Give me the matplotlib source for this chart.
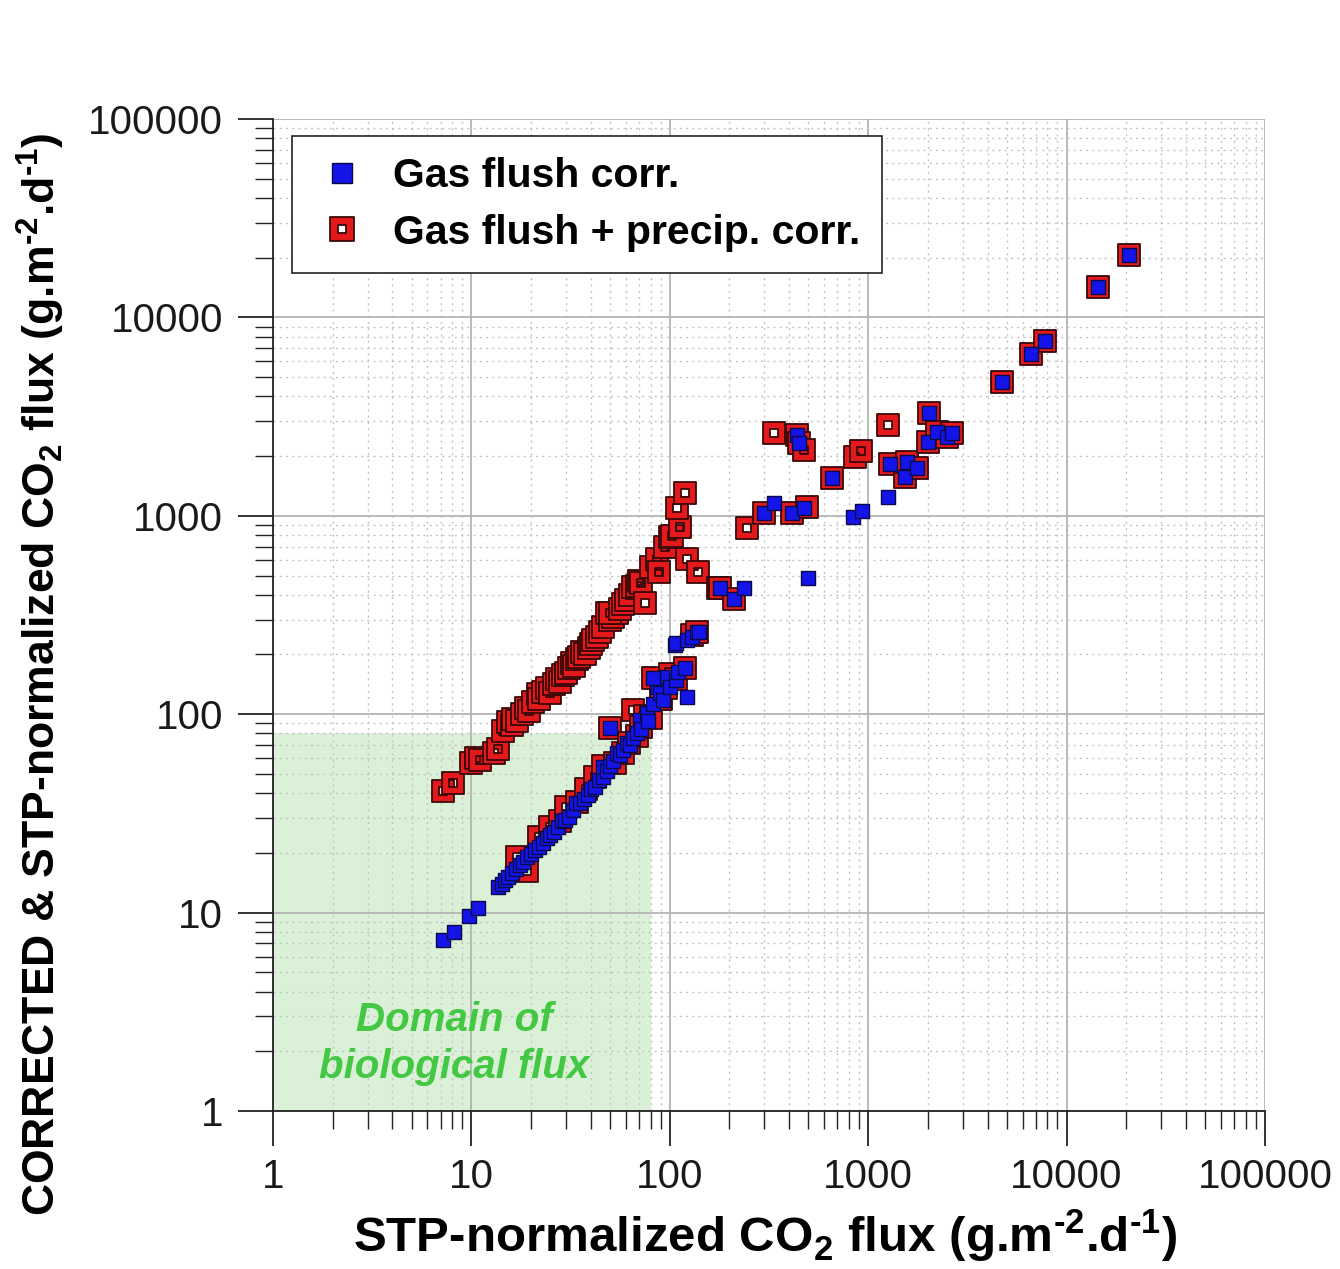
import numpy as np
import matplotlib as mpl
import matplotlib.pyplot as plt
from matplotlib.path import Path
from matplotlib.lines import Line2D
from matplotlib.patches import Rectangle

plt.rcParams['font.family'] = ['Liberation Sans', 'DejaVu Sans']
plt.rcParams['mathtext.fontset'] = 'custom'
plt.rcParams['mathtext.rm'] = 'Liberation Sans'
plt.rcParams['mathtext.bf'] = 'Liberation Sans:bold'

# ---- data (g.m-2.d-1) ----
# gas flush correction only
blue_x = [7.2, 8.2, 9.7, 10.8,
          13.6, 14.2, 14.7, 15.3, 16.0, 16.8, 17.6, 18.3, 19.1, 20.0, 20.9, 22.0,
          23.0, 24.0, 24.9, 26.0, 27.3, 28.5, 29.7, 31.0, 32.5, 33.5, 35.3, 37.0,
          38.6, 40.0, 42.0, 44.0, 46.0, 46.0, 48.0, 50.0, 52.0, 54.0, 56.0, 58.0,
          61.0, 63.0, 65.0, 68.0, 50.0, 71.0, 72.0, 76.5, 78.0, 82.0, 86.0, 89.0,
          92.5, 96.5, 100.0, 82.0, 108.0, 110.0, 119.0, 122.0, 106.0, 108.0, 122.0,
          130.0, 137.0, 141.0,
          180, 210, 238, 299, 335, 413, 440, 450, 474, 498, 660, 840, 930, 1260,
          1290, 1535, 1570, 1760, 2000, 2025, 2220, 2500, 2640, 4725, 6620, 7780,
          14400, 20650]
blue_y = [7.3, 8.0, 9.6, 10.5,
          13.5, 14.0, 14.6, 15.1, 15.8, 16.5, 17.4, 18.0, 19.1, 19.8, 20.6, 21.5,
          22.4, 23.8, 24.6, 25.5, 27.0, 28.8, 29.3, 30.5, 33.0, 35.5, 35.7, 37.5,
          39.0, 42.0, 43.0, 46.5, 48.0, 54.0, 52.0, 55.0, 58.0, 64.0, 62.0, 66.0,
          71.5, 70.0, 76.0, 80.0, 85.0, 94.0, 84.0, 101.0, 92.0, 113.0, 137.0, 128.0,
          118.0, 154.0, 137.0, 152.0, 149.0, 164.0, 171.0, 122.0, 223.0, 229.0, 237.0,
          245.0, 260.0, 260.0,
          433, 380, 433, 1033, 1160, 1033, 2555, 2330, 1095, 486, 1550, 986, 1057, 1245,
          1825, 1570, 1865, 1740, 2355, 3300, 2640, 2500, 2615, 4725, 6540, 7600,
          14200, 20650]

# gas flush + precipitation correction
red_x = [7.2, 8.1, 10.0, 10.6, 11.0, 13.0, 13.6, 14.5, 15.3, 16.0, 16.3, 17.0,
         18.0, 18.8, 19.5, 20.5, 21.7, 22.0, 23.0, 24.0, 25.0, 26.0, 27.0, 28.0,
         29.0, 30.0, 31.0, 32.0, 33.0, 34.0, 35.0, 36.0, 37.5, 39.0, 40.0, 41.0,
         43.0, 44.5, 46.0, 48.5, 50.0, 52.0, 54.0, 50.0, 56.0, 58.0, 60.0, 63.0,
         65.0, 68.0, 70.0, 72.0, 75.0, 80.0, 86.0, 88.0, 95.0, 100.0, 103.0, 113.0,
         109.0, 119.0, 122.0, 138.0, 175.0,
         17.0, 19.1, 22.0, 25.0, 28.0, 30.0, 34.0, 38.0, 42.0, 46.0, 50.0, 53.0,
         58.0, 62.0, 65.0, 68.0, 72.0, 75.0, 80.0, 82.0, 90.0, 96.0, 100.0, 108.0,
         119.0, 130.0, 137.0,
         180, 210, 245, 299, 335, 413, 440, 450, 474, 492, 660, 860, 920, 1260,
         1290, 1535, 1570, 1760, 2000, 2025, 2220, 2500, 2640, 4725, 6620, 7780,
         14400, 20650]
red_y = [41.0, 45.0, 57.0, 60.0, 59.0, 64.0, 67.0, 82.0, 91.0, 88.0, 95.0, 92.0,
         100.0, 108.0, 104.0, 115.0, 127.0, 120.0, 130.0, 135.0, 128.0, 142.0, 150.0, 145.0,
         158.0, 162.0, 170.0, 181.0, 175.0, 190.0, 195.0, 205.0, 200.0, 215.0, 225.0, 237.0,
         245.0, 260.0, 275.0, 322.0, 300.0, 310.0, 325.0, 325.0, 340.0, 360.0, 375.0, 400.0,
         438.0, 445.0, 470.0, 460.0, 365.0, 550.0, 603.0, 520.0, 700.0, 780.0, 790.0, 880.0,
         1100.0, 1300.0, 603.0, 520.0, 433.0,
         19.0, 16.3, 24.0, 27.0, 29.0, 34.0, 36.0, 42.0, 48.0, 55.0, 85.0, 57.0,
         64.0, 72.0, 105.0, 78.0, 86.0, 98.0, 96.0, 152.0, 120.0, 135.0, 160.0, 150.0,
         171.0, 250.0, 260.0,
         433, 380, 867, 1033, 2615, 1033, 2555, 2330, 2150, 1107, 1550, 1980, 2120, 2870,
         1825, 1570, 1865, 1740, 2355, 3300, 2640, 2500, 2615, 4725, 6540, 7600,
         14200, 20650]

bio_limit = 80  # upper corner of the "biological flux" domain

# hollow square marker (red ring, see-through centre)
outer = [(-1, -1), (1, -1), (1, 1), (-1, 1), (-1, -1)]
inner = [(-0.38, -0.38), (-0.38, 0.38), (0.38, 0.38), (0.38, -0.38), (-0.38, -0.38)]
codes = [Path.MOVETO] + [Path.LINETO] * 3 + [Path.CLOSEPOLY]
ring = Path(outer + inner, codes + codes)

RED = '#e3191c'
RED_EDGE = '#3a0808'
BLUE = '#1414e8'
BLUE_EDGE = '#0a0a48'

fig = plt.figure(figsize=(13.4, 12.69), dpi=100)
ax = fig.add_axes([0.2037, 0.1245, 0.7403, 0.7817])

ax.set_xscale('log')
ax.set_yscale('log')
ax.set_xlim(1, 100000)
ax.set_ylim(1, 100000)

ax.add_patch(Rectangle((1, 1), bio_limit - 1, bio_limit - 1,
                       facecolor='#daf1d8', edgecolor='none', zorder=0))
ax.text(8.2, 2.2, 'Domain of\nbiological flux', color='#44c844', fontsize=29,
        fontweight='bold', fontstyle='italic', ha='center', va='center',
        linespacing=1.3, zorder=1)

ax.grid(which='major', color='#b4b4b4', linestyle='-', linewidth=1.3, zorder=0.5)
ax.grid(which='minor', color='#c4c4c4', linestyle=(0, (1.5, 3)), linewidth=1.0, zorder=0.5)
ax.set_axisbelow(True)

ax.scatter(red_x, red_y, marker=ring, s=260, facecolor=RED, edgecolor=RED_EDGE,
           linewidth=1.3, zorder=3)
ax.scatter(blue_x, blue_y, marker='s', s=90, facecolor=BLUE, edgecolor=BLUE_EDGE,
           linewidth=1.0, zorder=4)

ticks = [1, 10, 100, 1000, 10000, 100000]
ax.set_xticks(ticks)
ax.set_yticks(ticks)
ax.set_xticklabels([str(t) for t in ticks])
ax.set_yticklabels([str(t) for t in ticks])
ax.xaxis.set_minor_locator(mpl.ticker.LogLocator(base=10, subs=np.arange(2, 10)))
ax.yaxis.set_minor_locator(mpl.ticker.LogLocator(base=10, subs=np.arange(2, 10)))
ax.xaxis.set_minor_formatter(mpl.ticker.NullFormatter())
ax.yaxis.set_minor_formatter(mpl.ticker.NullFormatter())
ax.tick_params(which='major', direction='out', length=25, width=1.3, labelsize=29,
               color='#222222', labelcolor='#1a1a1a')
ax.tick_params(which='minor', direction='out', length=13, width=1.0, color='#222222')
ax.tick_params(axis='x', which='major', pad=9)
ax.tick_params(axis='y', which='major', pad=11)

for side in ('top', 'right'):
    ax.spines[side].set_visible(False)
for side in ('left', 'bottom'):
    ax.spines[side].set_linewidth(1.3)
    ax.spines[side].set_color('#222222')

hy = '\u2010'
ax.set_xlabel('STP-normalized CO$_\\mathbf{2}$ flux (g.m$^\\mathbf{' + hy + '2}$.d$^\\mathbf{' + hy + '1}$)',
              fontsize=35.5, fontweight='bold')
ax.set_ylabel('CORRECTED & STP-normalized CO$_\\mathbf{2}$ flux (g.m$^\\mathbf{' + hy + '2}$.d$^\\mathbf{' + hy + '1}$)',
              fontsize=32, fontweight='bold')
ax.xaxis.set_label_coords(0.496, -0.098)
ax.yaxis.set_label_coords(-0.208, 0.44)

handles = [
    Line2D([], [], linestyle='none', marker='s', markersize=15, markerfacecolor=BLUE,
           markeredgecolor=BLUE_EDGE, markeredgewidth=1.0),
    Line2D([], [], linestyle='none', marker=ring, markersize=17, markerfacecolor=RED,
           markeredgecolor=RED_EDGE, markeredgewidth=1.3),
]
leg = ax.legend(handles, ['Gas flush corr.', 'Gas flush + precip. corr.'],
                loc='upper left', bbox_to_anchor=(0.019, 0.983), borderaxespad=0,
                fancybox=False, framealpha=1, edgecolor='#222222',
                prop={'size': 29.5, 'weight': 'bold'}, handletextpad=0.55,
                borderpad=0.52, labelspacing=0.45, handlelength=1.4)
leg.get_frame().set_linewidth(1.2)

fig.savefig('out.png', dpi=100)
